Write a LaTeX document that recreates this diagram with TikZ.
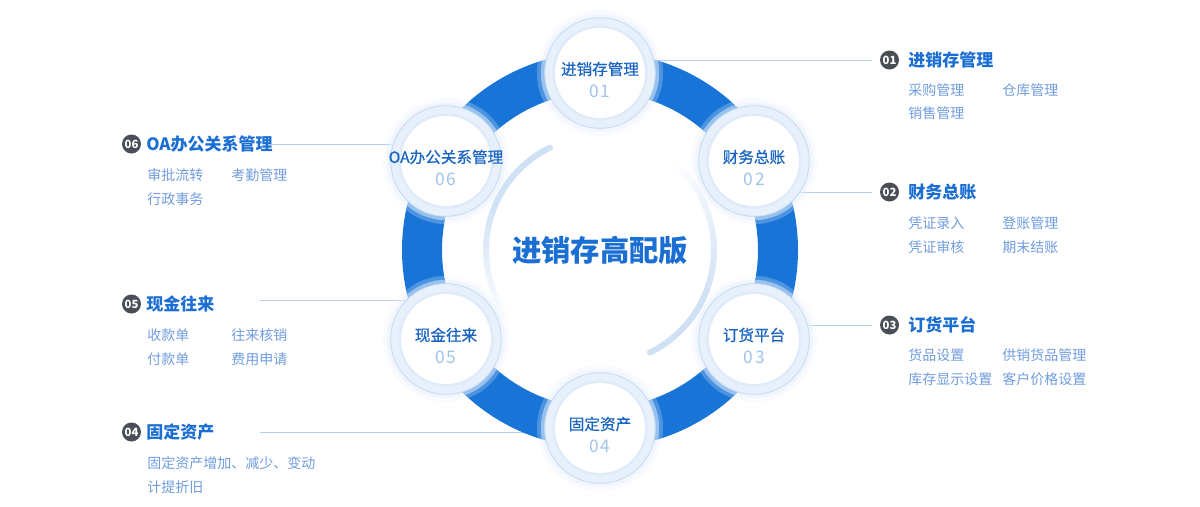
\documentclass[tikz,border=0pt]{standalone}
\usepackage{fontspec}
\setmainfont{Noto Sans CJK SC}
\newfontfamily\satfont{Noto Sans CJK SC}[FakeBold=0.7]
\usetikzlibrary{positioning, shadows, backgrounds, calc}
\definecolor{colRing}{RGB}{25,116,216}
\definecolor{colTitle}{RGB}{27,110,210}
\definecolor{colItem}{RGB}{112,156,222}
\definecolor{colNum}{RGB}{160,195,236}
\definecolor{colLink}{RGB}{180,208,240}
\definecolor{colBadge}{RGB}{74,78,86}
\definecolor{colSatFill}{RGB}{231,240,251}
\definecolor{colSatBorder}{RGB}{196,218,243}
\definecolor{colArc}{RGB}{208,225,246}
\tikzset{
  satNode/.style={
    circle, draw=colSatBorder, line width=0.6pt,
    fill=colSatFill, minimum size=83pt, inner sep=0pt,
    general shadow={shadow scale=1.14, fill=colSatFill, opacity=0.25},
    general shadow={shadow scale=1.07, fill=colSatFill, opacity=0.5},
    path picture={
      \fill[colSatBorder!55] (path picture bounding box.center) circle (47.5);
      \fill[white] (path picture bounding box.center) circle (45);
    }
  },
  satLabel/.style={
    inner sep=0pt, text=colTitle!92!black,
    font=\satfont\fontsize{11.7}{14}\selectfont
  },
  satNum/.style={
    inner sep=0pt, text=colNum,
    font=\fontsize{13}{14}\selectfont
  },
  badge/.style={
    circle, fill=colBadge, text=white, inner sep=0pt,
    minimum size=14.25pt, font=\fontsize{8.5}{10}\selectfont\bfseries
  },
  title/.style={
    anchor=west, inner sep=0pt, text=colTitle,
    font=\fontsize{12.75}{15}\selectfont\bfseries
  },
  item/.style={
    anchor=west, inner sep=0pt, text=colItem,
    font=\fontsize{10.5}{12}\selectfont
  },
  link/.style={
    draw=colLink, line width=0.6pt
  },
  ring/.style={
    draw=colRing, line width=30pt
  },
  glowArc/.style={
    draw=colArc, line width=4.5pt
  }
}

\begin{document}
\begin{tikzpicture}[x=0.75pt, y=-0.75pt]
  \useasboundingbox (0,0) rectangle (1200,507);
  \coordinate (ctr) at (600,250);

  % satellites around the ring
  \node[satNode] (s1) at (600,73) {};
  \node[satNode] (s2) at (754,161) {};
  \node[satNode] (s3) at (754,339) {};
  \node[satNode] (s4) at (600,428) {};
  \node[satNode] (s5) at (446,339) {};
  \node[satNode] (s6) at (446,161) {};

  \node[satLabel] (s1l) at ([yshift=3pt]s1.center) {进销存管理};
  \node[satNum] (s1n) at ([yshift=-13.5pt]s1.center) {0\hspace{1.5pt}1};
  \node[satLabel] (s2l) at ([yshift=3pt]s2.center) {财务总账};
  \node[satNum] (s2n) at ([yshift=-13.5pt]s2.center) {0\hspace{1.5pt}2};
  \node[satLabel] (s3l) at ([yshift=3pt]s3.center) {订货平台};
  \node[satNum] (s3n) at ([yshift=-13.5pt]s3.center) {0\hspace{1.5pt}3};
  \node[satLabel] (s4l) at ([yshift=3pt]s4.center) {固定资产};
  \node[satNum] (s4n) at ([yshift=-13.5pt]s4.center) {0\hspace{1.5pt}4};
  \node[satLabel] (s5l) at ([yshift=3pt]s5.center) {现金往来};
  \node[satNum] (s5n) at ([yshift=-13.5pt]s5.center) {0\hspace{1.5pt}5};
  \node[satLabel] (s6l) at ([yshift=3pt]s6.center) {OA办公关系管理};
  \node[satNum] (s6n) at ([yshift=-13.5pt]s6.center) {0\hspace{1.5pt}6};

  % centre title
  \node[inner sep=0pt, text=colTitle, font=\fontsize{22}{26}\selectfont\bfseries] (core) at (ctr) {进销存高配版};

  % inner light arcs, fading out
  \draw[glowArc, line cap=round] ($(ctr)+(244:114)$) arc[start angle=244, end angle=205, radius=114];
  \foreach \i in {0,...,19}
    \draw[glowArc, opacity={1-\i/20}] ($(ctr)+(205-\i*3:114)$) arc[start angle=205-\i*3, end angle=202-\i*3, radius=114];
  \draw[glowArc, line cap=round] ($(ctr)+(64:114)$) arc[start angle=64, end angle=25, radius=114];
  \foreach \i in {0,...,24}
    \draw[glowArc, opacity={1-\i/25}] ($(ctr)+(25-\i*3:114)$) arc[start angle=25-\i*3, end angle=22-\i*3, radius=114];

  % right side blocks
  \node[badge] (b1) at (889.5,60) {01};
  \node[title] (t1) at (908,60) {进销存管理};
  \node[item] (t1a) at (908,90) {采购管理};
  \node[item] (t1b) at (1002,90) {仓库管理};
  \node[item] (t1c) at (908,113) {销售管理};

  \node[badge] (b2) at (889.5,192) {02};
  \node[title] (t2) at (908,192) {财务总账};
  \node[item] (t2a) at (908,223) {凭证录入};
  \node[item] (t2b) at (1002,223) {登账管理};
  \node[item] (t2c) at (908,247) {凭证审核};
  \node[item] (t2d) at (1002,247) {期末结账};

  \node[badge] (b3) at (889.5,325) {03};
  \node[title] (t3) at (908,325) {订货平台};
  \node[item] (t3a) at (908,355) {货品设置};
  \node[item] (t3b) at (1002,355) {供销货品管理};
  \node[item] (t3c) at (908,379) {库存显示设置};
  \node[item] (t3d) at (1002,379) {客户价格设置};

  % left side blocks
  \node[badge] (b4) at (131.5,432) {04};
  \node[title] (t4) at (146,432) {固定资产};
  \node[item] (t4a) at (147,463) {固定资产增加、减少、变动};
  \node[item] (t4b) at (147,487) {计提折旧};

  \node[badge] (b5) at (131.5,304) {05};
  \node[title] (t5) at (146,304) {现金往来};
  \node[item] (t5a) at (147,335) {收款单};
  \node[item] (t5b) at (231,335) {往来核销};
  \node[item] (t5c) at (147,359) {付款单};
  \node[item] (t5d) at (231,359) {费用申请};

  \node[badge] (b6) at (131.5,144) {06};
  \node[title] (t6) at (146,144) {OA办公关系管理};
  \node[item] (t6a) at (147,175) {审批流转};
  \node[item] (t6b) at (231,175) {考勤管理};
  \node[item] (t6c) at (147,199) {行政事务};

  \coordinate (l4) at (260,432);
  \coordinate (l5) at (260,300);
  \coordinate (l6) at (270,144);

  \begin{scope}[on background layer]
    % connectors
    \draw[link, shorten >=6pt] (s1 |- b1) -- (b1);
    \draw[link, shorten >=6pt] (s2 |- b2) -- (b2);
    \draw[link, shorten >=6pt] (s3 |- b3) -- (b3);
    \draw[link] (l4) -- (l4 -| s4);
    \draw[link] (l5) -- (l5 -| s5);
    \draw[link] (l6) -- (l6 -| s6);
    % main ring
    \draw[ring] (ctr) circle (178);
  \end{scope}

\end{tikzpicture}
\end{document}
